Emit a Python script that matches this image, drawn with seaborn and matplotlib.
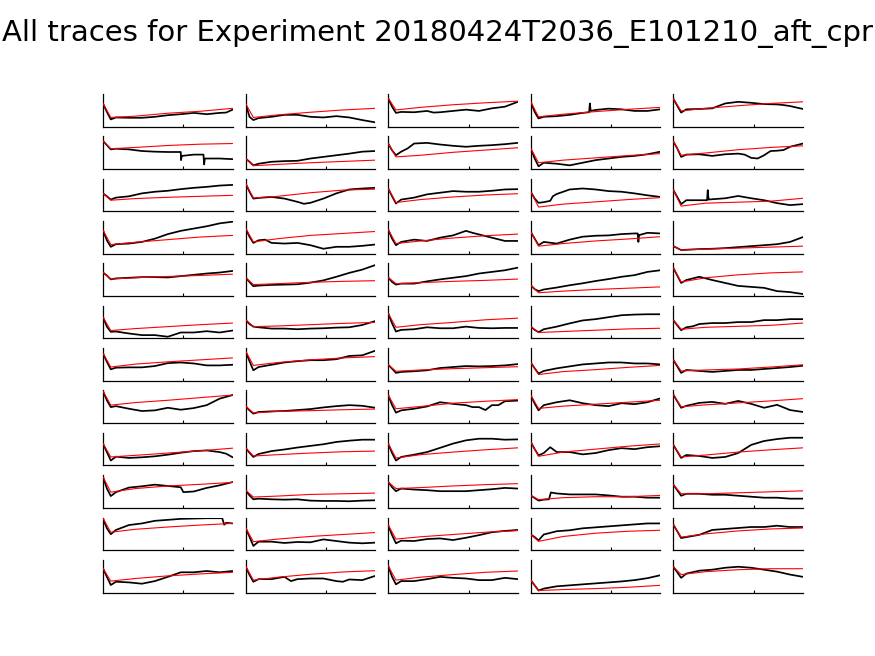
import matplotlib
matplotlib.use("Agg")
import matplotlib.pyplot as plt
import seaborn as sns

# x positions (percent of recording) where values were read
BLACK_X = [0, 3, 6, 10, 20, 30, 40, 50, 60, 70, 80, 90, 100]
RED_X = [0, 6, 25, 50, 75, 100]

TITLE = "All traces for Experiment 20180424T2036_E101210_aft_cpr"

# values in percent of each panel's height, rows 1..12 per column
black_c1 = [
    [71, 45, 22, 28, 27, 27, 30, 35, 38, 42, 38, 42, 52],
    [86, 73, 60, 62, 60, 55, 53, 52, 52, 44, 32, 32, 30],
    [55, 46, 36, 42, 46, 55, 60, 63, 68, 72, 75, 79, 81],
    [72, 41, 21, 29, 31, 36, 46, 60, 70, 77, 84, 93, 98],
    [72, 63, 51, 54, 56, 58, 58, 57, 61, 65, 69, 72, 77],
    [65, 36, 20, 21, 15, 10, 10, 5, 18, 18, 22, 18, 24],
    [84, 58, 35, 40, 41, 41, 45, 54, 56, 53, 47, 47, 49],
    [98, 70, 49, 52, 44, 37, 39, 47, 41, 46, 55, 75, 86],
    [67, 41, 15, 27, 23, 25, 28, 33, 39, 44, 46, 41, 25],
    [95, 59, 36, 48, 62, 66, 71, 67, 63, 50, 61, 69, 79],
    [97, 67, 49, 62, 77, 82, 90, 93, 96, 97, 98, 98, 82],
    [74, 48, 23, 33, 31, 27, 35, 48, 62, 62, 66, 62, 66],
]
black_c2 = [
    [71, 30, 20, 26, 30, 36, 36, 30, 28, 32, 28, 20, 13],
    [32, 22, 11, 16, 22, 24, 25, 32, 37, 42, 47, 53, 55],
    [86, 60, 39, 41, 44, 39, 29, 26, 39, 55, 67, 70, 72],
    [78, 52, 33, 41, 33, 31, 33, 26, 15, 21, 21, 24, 28],
    [57, 43, 30, 32, 34, 35, 36, 41, 48, 59, 71, 81, 95],
    [57, 44, 36, 34, 30, 30, 28, 30, 31, 33, 34, 41, 53],
    [91, 60, 32, 42, 49, 56, 60, 63, 63, 66, 76, 78, 92],
    [52, 39, 29, 34, 36, 37, 40, 43, 48, 52, 55, 53, 47],
    [54, 39, 26, 35, 44, 49, 55, 60, 65, 72, 76, 79, 79],
    [54, 38, 26, 28, 26, 25, 26, 22, 21, 21, 20, 22, 23],
    [69, 41, 13, 26, 26, 22, 25, 24, 33, 28, 23, 21, 23],
    [81, 54, 33, 41, 41, 48, 41, 43, 43, 35, 40, 38, 51],
]
black_c3 = [
    [87, 61, 42, 45, 44, 48, 44, 48, 52, 48, 56, 61, 76],
    [78, 57, 42, 53, 78, 80, 75, 71, 68, 71, 73, 76, 80],
    [70, 46, 24, 36, 42, 52, 57, 62, 60, 60, 63, 67, 68],
    [74, 46, 26, 36, 43, 39, 49, 56, 70, 59, 49, 39, 39],
    [57, 43, 35, 38, 38, 45, 51, 56, 61, 69, 74, 79, 87],
    [77, 46, 21, 26, 28, 34, 31, 31, 36, 32, 31, 32, 32],
    [49, 37, 24, 27, 29, 32, 39, 42, 45, 44, 45, 47, 51],
    [86, 55, 32, 39, 44, 51, 64, 59, 55, 49, 55, 67, 69],
    [67, 38, 15, 26, 33, 41, 54, 67, 77, 82, 82, 79, 80],
    [79, 63, 51, 59, 56, 54, 51, 51, 51, 54, 57, 61, 59],
    [77, 46, 21, 29, 28, 34, 36, 31, 38, 46, 55, 59, 62],
    [82, 48, 25, 35, 35, 41, 48, 45, 43, 38, 38, 45, 41],
]
black_c4 = [
    [76, 45, 25, 30, 32, 36, 42, 51, 55, 53, 48, 48, 53],
    [63, 32, 8, 19, 16, 11, 19, 27, 32, 37, 40, 45, 53],
    [60, 39, 26, 28, 53, 67, 70, 67, 62, 60, 55, 49, 44],
    [67, 46, 26, 36, 31, 43, 52, 55, 56, 60, 62, 64, 62],
    [33, 21, 15, 20, 26, 33, 39, 46, 52, 59, 64, 74, 79],
    [36, 26, 19, 28, 36, 46, 55, 59, 65, 71, 73, 74, 74],
    [56, 38, 22, 30, 38, 44, 50, 53, 56, 56, 53, 53, 50],
    [85, 60, 39, 55, 64, 70, 61, 55, 52, 61, 58, 64, 76],
    [72, 50, 31, 38, 41, 41, 34, 38, 47, 53, 50, 56, 59],
    [38, 30, 22, 25, 44, 41, 41, 41, 38, 34, 34, 31, 31],
    [48, 40, 30, 48, 58, 61, 67, 70, 73, 76, 79, 82, 82],
    [38, 22, 6, 12, 19, 22, 25, 28, 31, 34, 38, 44, 53],
]
black_c5 = [
    [85, 64, 43, 53, 54, 56, 71, 76, 73, 69, 68, 63, 54],
    [84, 63, 37, 44, 45, 40, 45, 47, 34, 42, 56, 68, 78],
    [65, 44, 22, 34, 34, 37, 40, 47, 40, 34, 25, 19, 22],
    [23, 17, 11, 12, 14, 15, 17, 20, 23, 26, 29, 36, 51],
    [86, 63, 40, 49, 59, 49, 40, 31, 28, 25, 15, 12, 6],
    [56, 40, 25, 34, 44, 47, 47, 50, 50, 56, 56, 59, 59],
    [64, 44, 24, 33, 30, 27, 30, 33, 33, 36, 39, 42, 46],
    [87, 67, 47, 53, 62, 65, 59, 68, 59, 47, 56, 40, 34],
    [63, 43, 23, 32, 29, 23, 26, 38, 63, 75, 81, 85, 85],
    [71, 54, 37, 43, 43, 40, 40, 37, 34, 31, 31, 28, 28],
    [78, 58, 37, 40, 47, 62, 65, 68, 71, 71, 75, 71, 71],
    [79, 62, 45, 58, 67, 70, 76, 79, 76, 70, 64, 55, 48],
]

red_c1 = [
    [71, 28, 32, 41, 47, 56], [86, 62, 66, 72, 76, 78], [55, 34, 39, 43, 46, 49],
    [72, 28, 35, 43, 51, 56], [72, 52, 56, 60, 63, 67], [65, 24, 30, 36, 42, 47],
    [84, 42, 51, 58, 64, 70], [98, 55, 63, 70, 78, 86], [67, 26, 31, 38, 45, 53],
    [95, 48, 59, 67, 72, 78], [98, 55, 64, 71, 77, 82], [74, 35, 43, 51, 57, 62],
]
red_c2 = [
    [71, 28, 36, 44, 51, 56], [32, 10, 14, 19, 23, 27], [86, 41, 46, 57, 65, 68],
    [78, 36, 46, 56, 62, 68], [57, 35, 38, 42, 45, 47], [57, 36, 38, 42, 46, 49],
    [91, 47, 56, 64, 70, 74], [52, 31, 36, 38, 41, 43], [54, 29, 33, 38, 42, 44],
    [54, 33, 36, 41, 43, 45], [69, 26, 34, 42, 48, 54], [81, 38, 47, 56, 63, 67],
]
red_c3 = [
    [87, 51, 59, 67, 73, 78], [78, 37, 42, 51, 58, 65], [70, 27, 36, 44, 50, 54],
    [74, 31, 39, 48, 55, 60], [57, 38, 41, 45, 48, 52], [77, 34, 42, 49, 57, 62],
    [49, 29, 33, 37, 40, 43], [86, 44, 51, 61, 67, 72], [67, 23, 33, 41, 48, 54],
    [79, 59, 62, 67, 71, 74], [77, 34, 41, 48, 55, 60], [82, 38, 47, 55, 62, 66],
]
red_c4 = [
    [76, 30, 38, 46, 53, 59], [63, 19, 27, 34, 41, 47], [60, 13, 22, 29, 36, 42],
    [67, 23, 31, 39, 45, 52], [33, 10, 15, 20, 24, 28], [36, 18, 21, 25, 29, 31],
    [56, 19, 28, 34, 41, 47], [85, 45, 52, 58, 64, 70], [72, 28, 41, 50, 59, 66],
    [38, 25, 31, 34, 34, 38], [48, 27, 42, 52, 58, 61], [38, 6, 9, 12, 16, 22],
]
red_c5 = [
    [85, 48, 56, 64, 71, 76], [84, 42, 49, 59, 66, 71], [65, 16, 25, 28, 31, 40],
    [23, 11, 14, 17, 20, 23], [86, 43, 56, 65, 71, 74], [56, 28, 34, 37, 40, 47],
    [64, 30, 33, 36, 42, 49], [87, 50, 56, 62, 68, 75], [63, 26, 32, 41, 48, 54],
    [71, 43, 43, 46, 49, 52], [78, 40, 50, 59, 65, 68], [79, 55, 64, 70, 73, 73],
]

# extra readings (steps, spikes, bumps): (row, col) -> [(x, y), ...]
extra_points = {
    (1, 1): [(95, 43)],
    (2, 1): [(59.5, 52), (60.2, 27), (60.8, 40), (77.5, 44), (78, 14), (78.6, 32)],
    (8, 1): [(85, 65)],
    (9, 1): [(95, 36)],
    (10, 1): [(62, 48)],
    (11, 1): [(92, 98), (93.5, 78), (95, 84)],
    (3, 2): [(45, 23)],
    (4, 2): [(15, 43)],
    (12, 2): [(35, 35), (75, 33)],
    (1, 3): [(35, 43)],
    (2, 3): [(15, 63)],
    (4, 3): [(65, 64)],
    (8, 3): [(65, 49), (75, 40), (85, 55)],
    (1, 4): [(45, 44), (45.6, 71), (46.2, 48)],
    (3, 4): [(15, 32), (17, 46)],
    (4, 4): [(82.5, 62), (83, 36), (83.6, 57)],
    (9, 4): [(15, 56)],
    (10, 4): [(14, 26), (15.5, 47)],
    (1, 5): [(85, 66)],
    (2, 5): [(55, 44), (65, 32), (75, 55), (85, 58)],
    (3, 5): [(26, 34), (26.5, 65), (27.2, 36)],
    (6, 5): [(15, 37)],
}

black_cols = [black_c1, black_c2, black_c3, black_c4, black_c5]
red_cols = [red_c1, red_c2, red_c3, red_c4, red_c5]
N_ROWS, N_COLS = 12, 5

sns.set_theme(style="white")
plt.rcParams["font.family"] = ["DejaVu Sans"]

fig, axes = plt.subplots(N_ROWS, N_COLS, figsize=(8.75, 6.56), dpi=100)
fig.subplots_adjust(left=103 / 875, right=803 / 875, top=1 - 94 / 656,
                    bottom=1 - 592.5 / 656, wspace=0.1, hspace=0.3)

for c in range(N_COLS):
    for r in range(N_ROWS):
        ax = axes[r, c]
        pts = dict(zip(BLACK_X, black_cols[c][r]))
        for x, y in extra_points.get((r + 1, c + 1), []):
            pts[x] = y
        xs = sorted(pts)
        ys = [pts[x] for x in xs]
        sns.lineplot(x=xs, y=ys, ax=ax, color="black", linewidth=1.25,
                     estimator=None, sort=False, zorder=2)
        sns.lineplot(x=RED_X, y=red_cols[c][r], ax=ax, color="red",
                     linewidth=0.8, estimator=None, sort=False, zorder=3)
        ax.set_xlim(0, 100)
        ax.set_ylim(0, 100)
        ax.set_xticks([62])
        ax.set_yticks([])
        ax.tick_params(axis="x", bottom=True, direction="in", length=2,
                       width=0.8, colors="black", labelbottom=False)
        ax.set_xlabel("")
        ax.set_ylabel("")
        for side in ("top", "right"):
            ax.spines[side].set_visible(False)
        for side in ("left", "bottom"):
            ax.spines[side].set_color("black")
            ax.spines[side].set_linewidth(0.9)
        ax.set_facecolor("white")

fig.suptitle(TITLE, fontsize=21, y=1 - 33 / 656, va="center", x=0.5,
             color="black")
fig.savefig("out.png", dpi=100, facecolor="white")
